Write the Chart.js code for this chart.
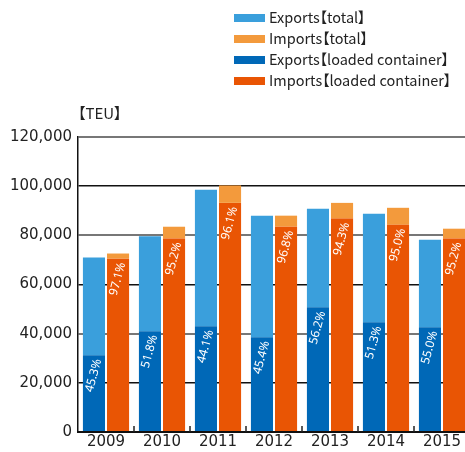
<!DOCTYPE html>
<html>
<head>
<meta charset="utf-8">
<script src="https://cdn.jsdelivr.net/npm/chart.js@4.4.0/dist/chart.umd.min.js"></script>
<style>
  html, body { margin: 0; padding: 0; background: #fff; overflow: hidden; }
  #wrap { position: relative; width: 465px; height: 452px; overflow: hidden; }
  #chart { position: absolute; left: 0; top: 0; }
  .legend, .unit { position: absolute; font-family: "Noto Sans CJK JP", "Noto Sans", sans-serif; font-size: 14.5px; color: #222; font-feature-settings: "palt" 1; }
  .legend { left: 234px; top: 6px; }
  .legend div { height: 21px; line-height: 21px; white-space: nowrap; }
  .legend span { display: inline-block; width: 31px; height: 8px; margin-right: 4px; vertical-align: 1px; }
  .unit { left: 78px; top: 102px; font-size: 15px; }
</style>
</head>
<body>
<div id="wrap">
  <canvas id="chart" width="470" height="452"></canvas>
  <div class="legend" id="legend"></div>
  <div class="unit">【TEU】</div>
</div>
<script>
// Port container traffic, TEU
const years = ['2009', '2010', '2011', '2012', '2013', '2014', '2015'];

const exportsTotal = [71000, 79600, 98500, 88000, 90800, 88800, 78200];
const exportsLoaded = [31200, 41000, 43000, 38500, 50700, 44600, 42600];
const importsTotal = [72600, 83500, 100300, 88000, 93200, 91200, 82700];
const importsLoaded = [70500, 78700, 93200, 83500, 86800, 84300, 78700];

const exportsPct = ['45.3%', '51.8%', '44.1%', '45.4%', '56.2%', '51.3%', '55.0%'];
const importsPct = ['97.1%', '95.2%', '96.1%', '96.8%', '94.3%', '95.0%', '95.2%'];

const yTicks = [0, 20000, 40000, 60000, 80000, 100000, 120000];

const colors = {
  expTotal: '#3a9fdc',
  impTotal: '#f39a3c',
  expLoaded: '#0068b7',
  impLoaded: '#e95504'
};

const legendItems = [
  ['Exports【total】', colors.expTotal],
  ['Imports【total】', colors.impTotal],
  ['Exports【loaded container】', colors.expLoaded],
  ['Imports【loaded container】', colors.impLoaded]
];

const axisFont = '"DejaVu Sans", sans-serif';
const pctFont = '"Noto Sans", sans-serif';

// Build legend
document.getElementById('legend').innerHTML = legendItems
  .map(([label, color]) => `<div><span style="background:${color}"></span>${label}</div>`)
  .join('');

// Percentage labels rotated inside the loaded part of each bar
const pctLabels = {
  id: 'pctLabels',
  afterDatasetsDraw(chart) {
    const ctx = chart.ctx;
    const sets = [[0, exportsPct], [2, importsPct]];
    ctx.save();
    ctx.fillStyle = '#fff';
    ctx.font = '12px ' + pctFont;
    ctx.textAlign = 'right';
    ctx.textBaseline = 'middle';
    sets.forEach(([dsIndex, labels]) => {
      chart.getDatasetMeta(dsIndex).data.forEach((bar, i) => {
        ctx.save();
        ctx.translate(bar.x + 4, bar.y + 4);
        ctx.rotate(-75 * Math.PI / 180);
        ctx.fillText(labels[i], 0, 0);
        ctx.restore();
      });
    });
    ctx.restore();
  }
};

// Small category separator ticks on the x axis, pointing up
const catTicks = {
  id: 'catTicks',
  afterDatasetsDraw(chart) {
    const ctx = chart.ctx;
    const x = chart.scales.x;
    const bottom = chart.chartArea.bottom;
    ctx.save();
    ctx.strokeStyle = '#222';
    ctx.lineWidth = 1.5;
    for (let i = 1; i < years.length; i++) {
      const px = (x.getPixelForValue(i - 1) + x.getPixelForValue(i)) / 2;
      ctx.beginPath();
      ctx.moveTo(px, bottom - 6);
      ctx.lineTo(px, bottom);
      ctx.stroke();
    }
    ctx.restore();
  }
};

new Chart(document.getElementById('chart'), {
  type: 'bar',
  data: {
    labels: years,
    datasets: [
      { label: 'Exports【loaded container】', data: exportsLoaded, backgroundColor: colors.expLoaded, stack: 'exp' },
      { label: 'Exports【total】', data: exportsTotal.map((v, i) => v - exportsLoaded[i]), backgroundColor: colors.expTotal, stack: 'exp' },
      { label: 'Imports【loaded container】', data: importsLoaded, backgroundColor: colors.impLoaded, stack: 'imp' },
      { label: 'Imports【total】', data: importsTotal.map((v, i) => v - importsLoaded[i]), backgroundColor: colors.impTotal, stack: 'imp' }
    ]
  },
  options: {
    responsive: false,
    animation: false,
    layout: { padding: { top: 137, left: 0, right: 0, bottom: 0 } },
    datasets: {
      bar: { categoryPercentage: 0.86, barPercentage: 0.917, borderWidth: 0 }
    },
    plugins: {
      legend: { display: false },
      tooltip: { enabled: false }
    },
    scales: {
      x: {
        stacked: true,
        grid: { display: false, drawTicks: false },
        border: { color: '#111', width: 2 },
        ticks: { color: '#222', font: { family: axisFont, size: 15, lineHeight: 1.2 }, padding: 1 }
      },
      y: {
        stacked: true,
        min: 0,
        max: 120000,
        afterFit(scale) { scale.width = 78; },
        afterBuildTicks(scale) { scale.ticks = yTicks.map(v => ({ value: v })); },
        grid: {
          drawTicks: false,
          color: ctx => (ctx.index % 2 === 0 ? '#777' : '#111'),
          lineWidth: ctx => (ctx.index % 2 === 0 ? 2 : 1.5)
        },
        border: { color: '#111', width: 1.5 },
        ticks: {
          color: '#222',
          padding: 6,
          font: { family: axisFont, size: 15 },
          callback: v => v.toLocaleString('en-US')
        }
      }
    }
  },
  plugins: [pctLabels, catTicks]
});
</script>
</body>
</html>
